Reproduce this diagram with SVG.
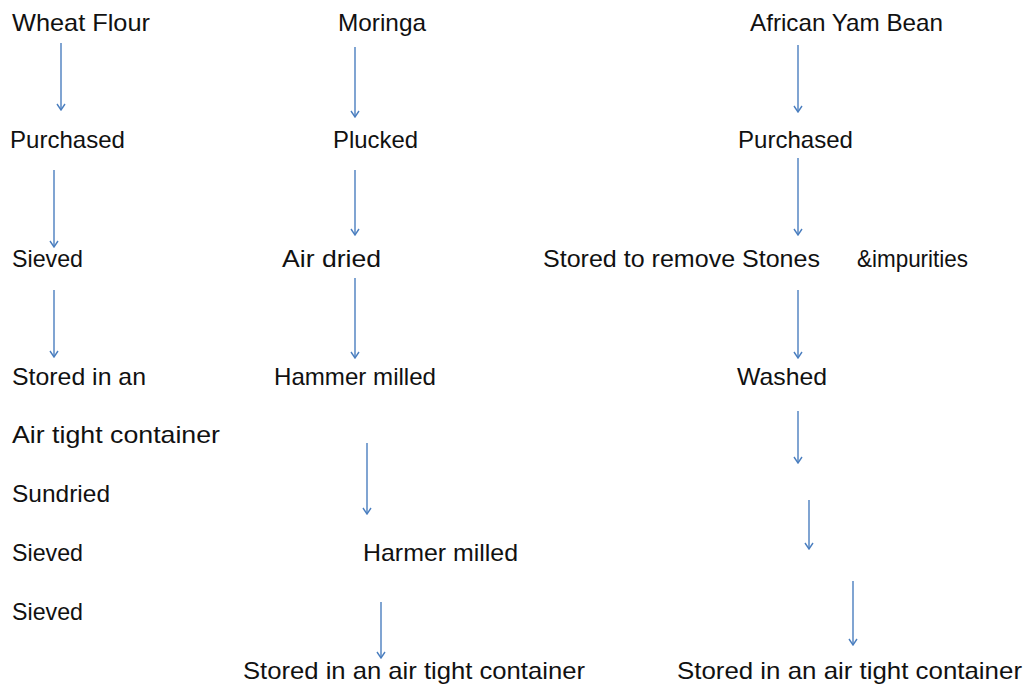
<svg xmlns="http://www.w3.org/2000/svg" width="1025" height="689" viewBox="0 0 1025 689">
<style>
text{font-family:"Liberation Sans",Arial,sans-serif;font-size:24px;fill:#111}
.c line{stroke:#4a7ebf;stroke-width:1.4;fill:none;marker-end:url(#ah)}
</style>
<defs>
<marker id="ah" viewBox="0 0 10 10" refX="9" refY="5" markerWidth="10" markerHeight="10" markerUnits="userSpaceOnUse" orient="auto">
<path d="M3,1 L9,5 L3,9" fill="none" stroke="#4a7ebf" stroke-width="1.4"/>
</marker>
</defs>
<rect width="1025" height="689" fill="#fff"/>
<g id="wheat-flour"><text x="12" y="31" textLength="138" lengthAdjust="spacingAndGlyphs">Wheat Flour</text></g>
<g id="moringa"><text x="338" y="31" textLength="88" lengthAdjust="spacingAndGlyphs">Moringa</text></g>
<g id="african-yam-bean"><text x="750" y="31" textLength="193" lengthAdjust="spacingAndGlyphs">African Yam Bean</text></g>
<g id="purchased-1"><text x="10" y="148" textLength="115" lengthAdjust="spacingAndGlyphs">Purchased</text></g>
<g id="plucked"><text x="333" y="148" textLength="85" lengthAdjust="spacingAndGlyphs">Plucked</text></g>
<g id="purchased-3"><text x="738" y="148" textLength="115" lengthAdjust="spacingAndGlyphs">Purchased</text></g>
<g id="sieved-1"><text x="12" y="267" textLength="71" lengthAdjust="spacingAndGlyphs">Sieved</text></g>
<g id="air-dried"><text x="282" y="267" textLength="99" lengthAdjust="spacingAndGlyphs">Air dried</text></g>
<g id="stored-remove"><text x="543" y="267" textLength="277" lengthAdjust="spacingAndGlyphs">Stored to remove Stones</text><text x="857" y="267" textLength="111" lengthAdjust="spacingAndGlyphs">&amp;impurities</text></g>
<g id="stored-in-an"><text x="12" y="385" textLength="134" lengthAdjust="spacingAndGlyphs">Stored in an</text></g>
<g id="hammer-milled"><text x="274" y="385" textLength="162" lengthAdjust="spacingAndGlyphs">Hammer milled</text></g>
<g id="washed"><text x="737" y="385" textLength="90" lengthAdjust="spacingAndGlyphs">Washed</text></g>
<g id="air-tight"><text x="12" y="443" textLength="208" lengthAdjust="spacingAndGlyphs">Air tight container</text></g>
<g id="sundried"><text x="12" y="502" textLength="98" lengthAdjust="spacingAndGlyphs">Sundried</text></g>
<g id="sieved-2"><text x="12" y="561" textLength="71" lengthAdjust="spacingAndGlyphs">Sieved</text></g>
<g id="harmer-milled"><text x="363" y="561" textLength="155" lengthAdjust="spacingAndGlyphs">Harmer milled</text></g>
<g id="sieved-3"><text x="12" y="620" textLength="71" lengthAdjust="spacingAndGlyphs">Sieved</text></g>
<g id="stored-2"><text x="243" y="679" textLength="342" lengthAdjust="spacingAndGlyphs">Stored in an air tight container</text></g>
<g id="stored-3"><text x="677" y="679" textLength="345" lengthAdjust="spacingAndGlyphs">Stored in an air tight container</text></g>
<g id="connectors" class="c">
<line x1="61" y1="43" x2="61" y2="110"/>
<line x1="54" y1="170" x2="54" y2="247"/>
<line x1="54" y1="290" x2="54" y2="357"/>
<line x1="355" y1="47" x2="355" y2="117"/>
<line x1="355" y1="170" x2="355" y2="235"/>
<line x1="355" y1="278" x2="355" y2="358"/>
<line x1="367" y1="443" x2="367" y2="514"/>
<line x1="381" y1="602" x2="381" y2="658"/>
<line x1="798" y1="45" x2="798" y2="112"/>
<line x1="798" y1="158" x2="798" y2="235"/>
<line x1="798" y1="290" x2="798" y2="358"/>
<line x1="798" y1="411" x2="798" y2="463"/>
<line x1="809" y1="500" x2="809" y2="549"/>
<line x1="853" y1="581" x2="853" y2="645"/>
</g>
</svg>
